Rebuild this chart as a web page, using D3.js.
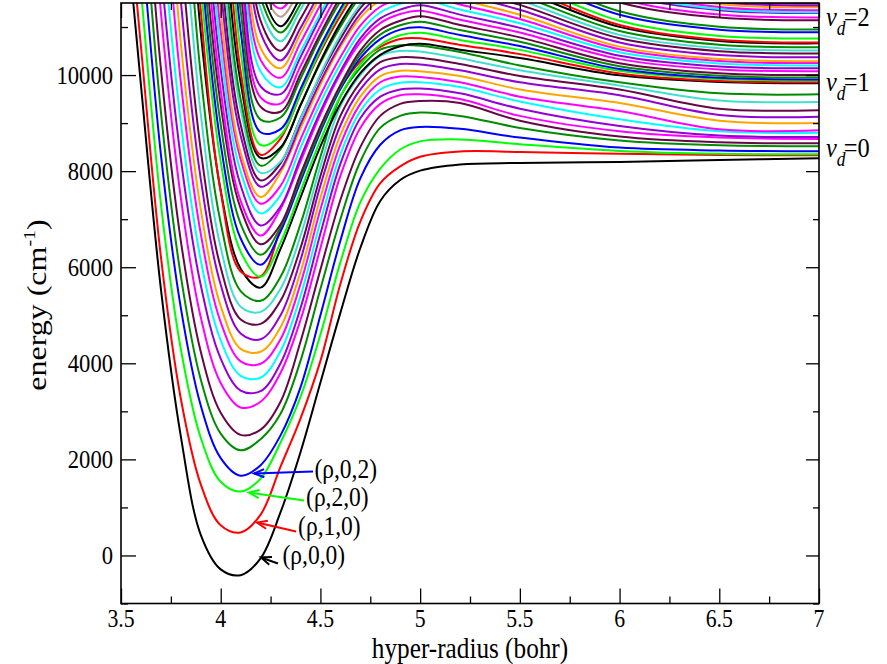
<!DOCTYPE html>
<html><head><meta charset="utf-8">
<script src="https://cdn.jsdelivr.net/npm/d3@7"></script>
<style>body{margin:0;background:#fff}svg{display:block}text{font-family:"Liberation Serif","Times New Roman",serif;fill:#000}</style>
</head><body><svg id="c" width="887" height="664"></svg>
<script>
// hyper-radius sampling grid (bohr)
const rho = [3.5,3.6,3.7,3.8,3.9,4.0,4.1,4.2,4.3,4.4,4.5,4.6,4.7,4.8,4.9,5.0,5.2,5.5,6.0,6.5,7.0];
// adiabatic potential curves, energy (cm^-1) at each rho
const c01=[14300,9790,5550,2480,430,-290,-410,-60,900,2150,3600,5050,6400,7380,7815,8010,8140,8170,8190,8230,8270];
const c02=[15100,10595,6220,3263,1480,627,480,850,1850,2850,4050,5650,6950,7750,8100,8300,8410,8400,8360,8335,8330];
const c03=[16500,11760,7323,4298,2449,1533,1330,1600,2350,3300,4600,6100,7350,8050,8450,8620,8660,8560,8420,8360,8350];
const c04=[17500,12940,8350,5154,3121,2027,1660,1880,2500,3500,5000,6550,7850,8550,8850,8920,8880,8700,8490,8430,8415];
const c05=[19000,14180,9235,5814,3664,2537,2190,2420,2950,4050,5550,7000,8200,8900,9150,9220,9150,8900,8640,8540,8520];
const c06=[20000,15245,10138,6550,4242,2971,2510,2620,3200,4450,5950,7400,8500,9150,9400,9460,9420,9050,8720,8600,8580];
const c07=[20000,16815,11309,7446,4958,3590,3080,3200,3800,4900,6400,7900,8900,9400,9580,9600,9500,9150,8830,8700,8670];
const c08=[20000,17800,12234,8258,5626,4097,3432,3420,4000,5150,6700,8150,9100,9550,9700,9720,9620,9300,8940,8740,8710];
const c09=[20000,19340,13327,9011,6148,4477,3740,3700,4250,5400,6950,8350,9250,9700,9840,9850,9750,9450,9080,8830,8800];
const c10=[20000,20000,14610,9853,6695,4855,4041,3990,4500,5650,7200,8550,9400,9850,9970,9960,9850,9550,9250,8870,8850];
const c11=[20000,20000,15860,10656,7203,5190,4301,4240,4750,5900,7450,8750,9550,9980,10090,10080,9980,9700,9420,9050,9000];
const c12=[20000,20000,17080,11543,7835,5636,4622,4500,5000,6150,7700,8950,9700,10120,10230,10220,10100,9850,9580,9170,9130];
const c13=[20000,20000,18970,12640,8440,5992,4910,4820,5300,6400,7900,9150,9850,10270,10370,10360,10230,9980,9700,9300,9270];
const c14=[20000,20000,20000,13970,9194,6410,5179,5070,5550,6650,8100,9350,10000,10400,10500,10490,10350,10100,9780,9470,9440];
const c15=[20000,20000,20000,15185,9997,6921,5503,5300,5800,6900,8300,9550,10150,10530,10620,10610,10480,10200,9850,9620,9600];
const c16=[20000,20000,20000,16260,10884,7595,5967,5575,6383,7450,8516,9405,10040,10421,10600,10650,10527,10355,9994,9855,9830];
const c17=[20000,20000,20000,17810,11348,7577,5912,5807,6799,7867,8884,9723,10282,10587,10750,10765,10628,10436,10033,9877,9850];
const c18=[20000,20000,20000,17784,11867,8197,6324,5800,6511,7578,8645,9559,10220,10626,10829,10880,10732,10524,10088,9920,9890];
const c19=[20000,20000,20000,18578,12392,8556,6598,6050,6742,7781,8819,9709,10352,10748,10946,10995,10832,10604,10127,9943,9910];
const c20=[20000,20000,20000,19170,12904,8968,6904,6258,6833,7854,8874,9749,10430,10843,11037,11110,10936,10692,10182,9985,9950];
const c21=[20000,20000,20000,19717,13401,9384,7224,6478,6889,7937,8938,9796,10510,10939,11130,11225,11041,10784,10245,10037,10000];
const c22=[20000,20000,20000,20000,14078,9684,7380,6658,7213,8198,9183,10027,10683,11082,11270,11340,11151,10886,10332,10118,10080];
const c23=[20000,20000,20000,20000,14590,10111,7702,6870,7264,8278,9245,10074,10764,11179,11363,11455,11258,10982,10403,10179,10140];
const c24=[20000,20000,20000,20000,15196,10511,7991,7121,7502,8486,9424,10229,10900,11302,11481,11570,11365,11077,10474,10241,10200];
const c25=[20000,20000,20000,20000,15883,10916,8245,7323,7695,8659,9580,10370,11027,11422,11597,11685,11470,11168,10537,10293,10250];
const c26=[20000,20000,20000,20000,16945,11328,8383,7460,7972,8886,9799,10582,11191,11561,11735,11800,11574,11256,10592,10335,10290];
const c27=[20000,20000,20000,20000,17532,11813,8738,7676,8034,8972,9868,10636,11275,11659,11830,11915,11683,11359,10679,10416,10370];
const c28=[20000,20000,20000,20000,18548,12316,8965,7808,8163,9098,9990,10755,11393,11775,11945,12030,11793,11461,10766,10497,10450];
const c29=[20000,20000,20000,20000,19258,12824,9284,7964,8197,9089,10023,10829,11466,11848,12060,12145,11900,11556,10837,10559,10510];
const c30=[20000,20000,20000,20000,20000,13492,9494,8114,8456,9376,10254,11006,11633,12009,12176,12260,12008,11655,10916,10630,10580];
const c31=[20000,20000,20000,20000,20000,14053,9845,8276,8492,9369,10288,11081,11707,12083,12292,12375,12118,11758,11003,10711,10660];
const c32=[20000,20000,20000,20000,20000,15077,10070,8342,8677,9599,10479,11233,11862,12239,12406,12490,12219,11838,11042,10734,10680];
const c33=[20000,20000,20000,20000,20000,15696,10486,8544,8741,9613,10528,11317,11940,12314,12522,12605,12328,11941,11129,10815,10760];
const c34=[20000,20000,20000,20000,20000,16230,10922,8810,8874,9708,10604,11377,12008,12415,12618,12720,12446,12061,11256,10945,10890];
const c35=[20000,20000,20000,20000,20000,17026,11335,9072,9116,9923,10789,11536,12146,12540,12737,12835,12552,12156,11327,11007,10950];
const c36=[20000,20000,20000,20000,20000,17516,11760,9338,9237,10021,10864,11628,12255,12647,12882,13000,12721,12330,11512,11196,11140];
const c37=[20000,20000,20000,20000,20000,18589,12217,9536,9406,10186,11025,11785,12409,12799,13033,13150,12858,12448,11590,11259,11200];
const c38=[20000,20000,20000,20000,20000,20000,12720,9765,9604,10374,11202,11953,12569,12954,13185,13300,13000,12576,11692,11350,11290];
const c39=[20000,20000,20000,20000,20000,20000,13115,10073,9745,10486,11284,12044,12671,13089,13317,13450,13129,12680,11738,11374,11310];
const c40=[20000,20000,20000,20000,20000,20000,13663,10316,9944,10675,11463,12213,12831,13244,13469,13600,13263,12790,11800,11418,11350];
const c41=[20000,20000,20000,20000,20000,20000,14261,10564,10143,10864,11641,12381,12992,13399,13621,13750,13399,12908,11878,11480,11410];
const c42=[20000,20000,20000,20000,20000,20000,14490,10876,10305,10980,11747,12477,13097,13535,13754,13900,13533,13018,11940,11524,11450];
const c43=[20000,20000,20000,20000,20000,20000,15059,11130,10504,11170,11926,12646,13258,13690,13906,14050,13666,13128,12002,11567,11490];
const c44=[20000,20000,20000,20000,20000,20000,15628,11384,10703,11360,12106,12816,13419,13845,14058,14200,13804,13250,12088,11639,11560];
const c45=[20000,20000,20000,20000,20000,20000,15302,11617,10885,11480,12215,12950,13545,13965,14210,14350,13941,13367,12166,11702,11620];
const c46=[20000,20000,20000,20000,20000,20000,15976,11840,11015,11614,12353,13092,13690,14113,14359,14500,14080,13492,12260,11784,11700];
const c47=[20000,20000,20000,20000,20000,20000,15774,11971,11215,11805,12533,13262,13852,14268,14511,14650,14220,13617,12354,11866,11780];
const c48=[20000,20000,20000,20000,20000,20000,14867,11956,11385,11971,12696,13420,14007,14421,14662,14800,14359,13742,12448,11948,11860];
const curves=[c01,c02,c03,c04,c05,c06,c07,c08,c09,c10,c11,c12,c13,c14,c15,c16,c17,c18,c19,c20,c21,c22,c23,c24,
  c25,c26,c27,c28,c29,c30,c31,c32,c33,c34,c35,c36,c37,c38,c39,c40,c41,c42,c43,c44,c45,c46,c47,c48];
const cycle=["black","red","green","blue","green4","maroon","magenta","violet","cyan","magenta","orange","violet","maroon","turquoise","green4"];
const curveColors=[...cycle,...cycle,...cycle,"black","tan","magenta"];
const colorHex={black:"#000000",red:"#ff0000",green:"#00ff00",blue:"#0000ff",green4:"#008b00",maroon:"#670748",
  magenta:"#ff00ff",violet:"#9400d3",cyan:"#00ffff",orange:"#ffa500",turquoise:"#40e0d0",tan:"#bca08f"};
// axes
const xMajor=[3.5,4,4.5,5,5.5,6,6.5,7];
const xMajorLabels=["3.5","4","4.5","5","5.5","6","6.5","7"];
const xMinor=[3.75,4.25,4.75,5.25,5.75,6.25,6.75];
const yMajor=[0,2000,4000,6000,8000,10000];
const yMinor=[-1000,1000,3000,5000,7000,9000,11000];
// annotations: label, text pos (rho,E), arrow start, arrow end, color
const notes=[
  {t:"(ρ,0,2)",tx:4.47,tE:1610,x1:4.463,E1:1747,x2:4.167,E2:1706,c:"blue"},
  {t:"(ρ,2,0)",tx:4.428,tE:1030,x1:4.418,E1:1144,x2:4.142,E2:1310,c:"green"},
  {t:"(ρ,1,0)",tx:4.388,tE:430,x1:4.378,E1:499,x2:4.182,E2:686,c:"red"},
  {t:"(ρ,0,0)",tx:4.31,tE:-180,x1:4.287,E1:-166,x2:4.202,E2:-42,c:"black"}
];
const vdLabels=["0","1","2"];
const vdLabelE=[8300,9670,11020];

const svg=d3.select("#c");
const L=121,R=819,T=3,B=603.5;
const x=d3.scaleLinear().domain([3.5,7]).range([L,R]);
const y=d3.scaleLinear().domain([-1000,11500]).range([B,T]);
const SX=0.87;

svg.append("defs").append("clipPath").attr("id","clip").append("rect")
  .attr("x",L).attr("y",T).attr("width",R-L).attr("height",B-T);

const line=d3.line().x((d,i)=>x(rho[i])).y(d=>y(d)).curve(d3.curveCatmullRom.alpha(0.5));
const gc=svg.append("g").attr("clip-path","url(#clip)");
curves.forEach((c,i)=>{
  gc.append("path").attr("d",line(c)).attr("fill","none")
    .attr("stroke",colorHex[curveColors[i]]).attr("stroke-width",2).attr("stroke-linejoin","round");
});

// ticks (inward, all four sides)
function ticks(axis,vals,len,tr){
  const g=svg.append("g").attr("transform",tr).call(axis.tickValues(vals).tickSize(-len).tickFormat(""));
  g.select(".domain").remove();
  g.selectAll("line").attr("stroke","#000").attr("stroke-width",1.3);
}
ticks(d3.axisBottom(x),xMajor,15,`translate(0,${B})`);
ticks(d3.axisBottom(x),xMinor,7,`translate(0,${B})`);
ticks(d3.axisTop(x),xMajor,15,`translate(0,${T})`);
ticks(d3.axisTop(x),xMinor,7,`translate(0,${T})`);
ticks(d3.axisLeft(y),yMajor,15,`translate(${L},0)`);
ticks(d3.axisLeft(y),yMinor,7,`translate(${L},0)`);
ticks(d3.axisRight(y),yMajor,13,`translate(${R},0)`);
ticks(d3.axisRight(y),yMinor,6,`translate(${R},0)`);

svg.append("rect").attr("x",L).attr("y",T).attr("width",R-L).attr("height",B-T)
  .attr("fill","none").attr("stroke","#000").attr("stroke-width",1.6);

// tick labels
xMajor.forEach((v,i)=>{
  svg.append("text").attr("transform",`translate(${x(v)},627) scale(${SX},1)`)
    .attr("text-anchor","middle").attr("font-size",25).text(xMajorLabels[i]);
});
yMajor.forEach(v=>{
  svg.append("text").attr("transform",`translate(113,${y(v)+9}) scale(${SX},1)`)
    .attr("text-anchor","end").attr("font-size",26).text(d3.format("d")(v));
});
// axis titles
svg.append("text").attr("transform",`translate(470,658) scale(${SX},1)`)
  .attr("text-anchor","middle").attr("font-size",29).text("hyper-radius (bohr)");
const yl=svg.append("text").attr("transform",`translate(46,305) scale(${SX},1) rotate(-90)`)
  .attr("text-anchor","middle").attr("font-size",32);
yl.append("tspan").text("energy (cm");
yl.append("tspan").attr("dy",-13).attr("font-size",20).text("-1");
yl.append("tspan").attr("dy",13).text(")");

// annotations with open arrows
notes.forEach(n=>{
  const X1=x(n.x1),Y1=y(n.E1),X2=x(n.x2),Y2=y(n.E2);
  const col=colorHex[n.c];
  svg.append("line").attr("x1",X1).attr("y1",Y1).attr("x2",X2).attr("y2",Y2)
    .attr("stroke",col).attr("stroke-width",2);
  const a=Math.atan2(Y1-Y2,X1-X2), h=11, s=0.38;
  svg.append("path").attr("d",`M${X2+h*Math.cos(a+s)},${Y2+h*Math.sin(a+s)}L${X2},${Y2}L${X2+h*Math.cos(a-s)},${Y2+h*Math.sin(a-s)}`)
    .attr("fill","none").attr("stroke",col).attr("stroke-width",2);
  svg.append("text").attr("transform",`translate(${x(n.tx)},${y(n.tE)}) scale(${SX},1)`)
    .attr("font-size",27).text(n.t);
});

// dissociation labels
vdLabels.forEach((v,i)=>{
  const yy=y(vdLabelE[i]);
  const t=svg.append("text").attr("transform",`translate(826,${yy}) scale(${SX},1)`).attr("font-size",28);
  t.append("tspan").attr("font-style","italic").text("ν");
  t.append("tspan").attr("font-size",20).attr("font-style","italic").attr("dy",9).text("d");
  t.append("tspan").attr("dy",-9).attr("dx",-2).attr("font-size",28).text("="+v);
});
</script></body></html>
